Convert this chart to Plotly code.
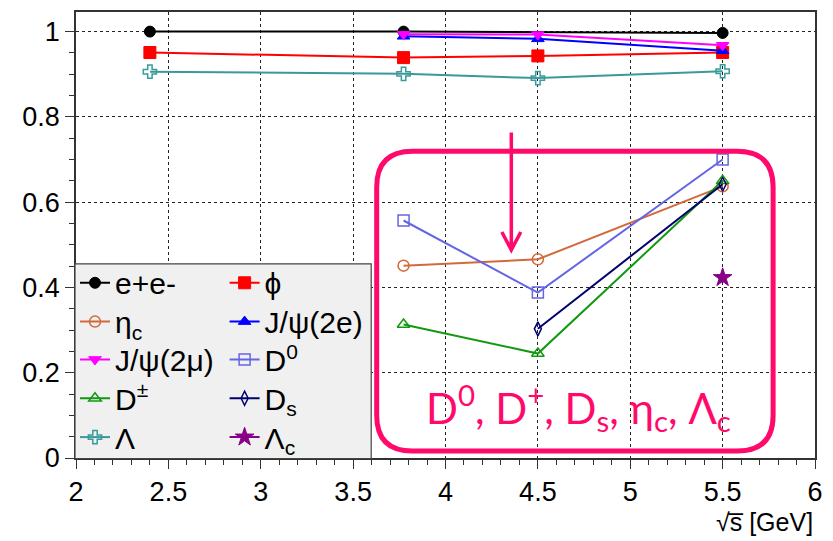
import plotly.graph_objects as go

# ---------------- data ----------------
x_ee = [2.4, 3.773, 5.5]
y_ee = [1.0, 1.0, 0.997]

x_phi = [2.4, 3.773, 4.5, 5.5]
y_phi = [0.951, 0.939, 0.943, 0.951]

x_etac = [3.773, 4.5, 5.5]
y_etac = [0.451, 0.466, 0.637]

x_jpsi_e = [3.773, 4.5, 5.5]
y_jpsi_e = [0.989, 0.983, 0.955]

x_jpsi_mu = [3.773, 4.5, 5.5]
y_jpsi_mu = [0.994, 0.993, 0.968]

x_d0 = [3.773, 4.5, 5.5]
y_d0 = [0.557, 0.388, 0.700]

x_dpm = [3.773, 4.5, 5.5]
y_dpm = [0.313, 0.245, 0.650]

x_ds = [4.5, 5.5]
y_ds = [0.303, 0.642]

x_lam = [2.4, 3.773, 4.5, 5.5]
y_lam = [0.906, 0.901, 0.891, 0.907]

x_lamc = [5.5]
y_lamc = [0.423]

names = ["e+e-", "\u03d5", "\u03b7<sub>c</sub>", "J/\u03c8(2e)", "J/\u03c8(2\u03bc)",
         "D<sup>0</sup>", "D<sup>\u00b1</sup>", "D<sub>s</sub>", "\u039b", "\u039b<sub>c</sub>"]

# ---------------- geometry ----------------
W, H = 833, 541
ML, MR, MT, MB = 76, 16, 10, 83
PW, PH = W - ML - MR, H - MT - MB
XR = [2, 6]
YR = [0, 1.046]

def px2x(p):
    return XR[0] + (p - ML) / PW * (XR[1] - XR[0])

def py2y(p):
    return YR[0] + (MT + PH - p) / PH * (YR[1] - YR[0])

def ppx(p):  # pixel -> paper x
    return (p - ML) / PW

def ppy(p):  # pixel -> paper y
    return (MT + PH - p) / PH

FONT = "Liberation Sans, Arial, sans-serif"

series = [
    (x_ee, y_ee, "black", "circle", 11, 1),
    (x_phi, y_phi, "#ff0000", "square", 12, 1),
    (x_etac, y_etac, "#d2693c", "circle-open", 11, 1.5),
    (x_jpsi_e, y_jpsi_e, "#0000ff", "triangle-up", 11, 1),
    (x_jpsi_mu, y_jpsi_mu, "#ff00ff", "triangle-down", 11, 1),
    (x_d0, y_d0, "#6464e6", "square-open", 11, 1.5),
    (x_dpm, y_dpm, "#119911", "triangle-up-open", 11, 1.5),
    (x_ds, y_ds, "#00006e", "diamond-tall-open", 10, 1.5),
    (x_lam, y_lam, "#399a9a", "cross-open", 11, 1.5),
    (x_lamc, y_lamc, "#880088", "star", 14, 1),
]

# legend layout: two columns, five rows
leg_rows = [282, 321, 359, 398, 437]
leg_cols = [75, 225]

fig = go.Figure()
layout_legends = {}
for i, (xs, ys, col, sym, sz, lw) in enumerate(series):
    lname = "legend" if i == 0 else f"legend{i+1}"
    fig.add_trace(go.Scatter(
        x=xs, y=ys, name=names[i], mode="lines+markers",
        line=dict(color=col, width=2),
        marker=dict(color=col, symbol=sym, size=sz, line=dict(color=col, width=lw)),
        legend=lname, showlegend=True,
    ))
    r, c = i // 2, i % 2
    layout_legends[lname] = dict(
        x=ppx(leg_cols[c]), y=ppy(leg_rows[r]), xanchor="left", yanchor="middle",
        bgcolor="rgba(0,0,0,0)", borderwidth=0, itemwidth=30,
        font=dict(family=FONT, size=30, color="black"),
    )

fig.update_layout(**layout_legends)

# legend box
fig.add_shape(type="rect", xref="paper", yref="paper",
              x0=ppx(75), x1=ppx(372), y0=ppy(263), y1=ppy(458.5),
              fillcolor="#f0f0f0", line=dict(color="#444444", width=1.2), layer="above")

# pink rounded box
L, R, T, B = 377.5, 775, 150, 451
rad = 36
def P(px, py):
    return f"{px2x(px):.5f},{py2y(py):.5f}"
path = (f"M {P(L + rad, T)} L {P(R - rad, T)} Q {P(R, T)} {P(R, T + rad)} "
        f"L {P(R, B - rad)} Q {P(R, B)} {P(R - rad, B)} "
        f"L {P(L + rad, B)} Q {P(L, B)} {P(L, B - rad)} "
        f"L {P(L, T + rad)} Q {P(L, T)} {P(L + rad, T)} Z")
fig.add_shape(type="path", xref="x", yref="y", path=path,
              line=dict(color="#ff0a6a", width=5), layer="above")

# arrow
AX, AT, AB = 512.5, 131, 250
arrow = (f"M {P(AX, AT)} L {P(AX, AB - 1)} "
         f"M {P(AX - 9.5, AB - 19)} L {P(AX, AB - 1)} L {P(AX + 9.5, AB - 19)}")
fig.add_shape(type="path", xref="x", yref="y", path=arrow,
              line=dict(color="#ff0a6a", width=3.5), layer="above")

# box text
fig.add_annotation(
    x=ppx(580), y=ppy(407), xref="paper", yref="paper", showarrow=False,
    xanchor="center", yanchor="middle",
    text="D<sup>0</sup>, D<sup>+</sup>, D<sub>s</sub>, \u03b7<sub>c</sub>, \u039b<sub>c</sub>",
    font=dict(family="Lato, Open Sans, sans-serif", size=42, color="#ff0a6a"),
)

# x-axis title
fig.add_annotation(
    x=1, y=ppy(522), xref="paper", yref="paper", showarrow=False,
    xanchor="right", yanchor="middle",
    text="\u221as\u0305 [GeV]",
    font=dict(family=FONT, size=25, color="black"),
)

axis_common = dict(
    showline=True, linecolor="#333333", linewidth=1.5, mirror=True,
    ticks="outside", ticklen=9, tickwidth=1.2, tickcolor="#333333",
    showgrid=True, gridcolor="#222222", griddash="dot", gridwidth=1,
    zeroline=False,
    tickfont=dict(family=FONT, size=27, color="black"),
)

fig.update_xaxes(range=XR, dtick=0.5, tick0=2,
                 minor=dict(dtick=0.1, ticklen=5, ticks="outside", tickcolor="#333333", showgrid=False),
                 **axis_common)
fig.update_yaxes(range=YR, dtick=0.2, tick0=0,
                 minor=dict(dtick=0.05, ticklen=5, ticks="outside", tickcolor="#333333", showgrid=False),
                 **axis_common)

fig.update_layout(
    width=W, height=H,
    margin=dict(l=ML, r=MR, t=MT, b=MB),
    paper_bgcolor="white", plot_bgcolor="white",
    showlegend=True,
)

fig.write_html("out.html")
